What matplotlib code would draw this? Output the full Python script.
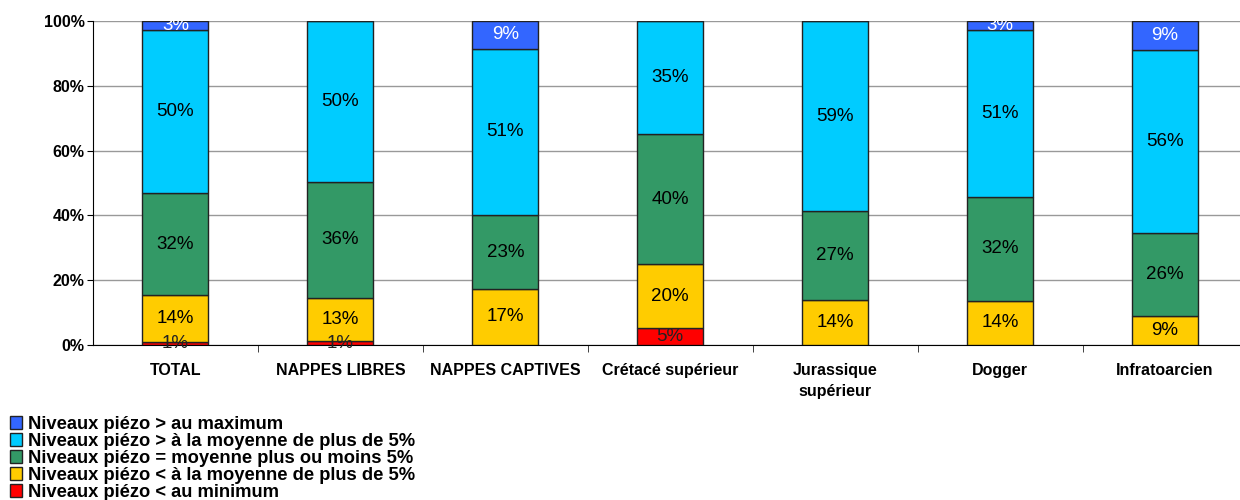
import numpy as np
import matplotlib.pyplot as plt
from matplotlib.ticker import FixedLocator, NullFormatter

plt.rcParams['font.family'] = ['Liberation Sans', 'DejaVu Sans']

categories = ["TOTAL", "NAPPES LIBRES", "NAPPES CAPTIVES", "Crétacé supérieur",
              "Jurassique\nsupérieur", "Dogger", "Infratoarcien"]

# stacked from bottom to top (% of stations)
below_min = [0.9, 1.2, 0.0, 5.2, 0.0, 0.0, 0.0]
below_avg = [14.4, 13.4, 17.3, 19.8, 13.9, 13.6, 9.0]
around_avg = [31.7, 35.8, 22.8, 40.0, 27.4, 32.2, 25.6]
above_avg = [50.2, 49.6, 51.3, 35.0, 58.7, 51.4, 56.4]
above_max = [2.8, 0.0, 8.6, 0.0, 0.0, 2.8, 9.0]

series = [below_min, below_avg, around_avg, above_avg, above_max]
labels = ["Niveaux piézo < au minimum",
          "Niveaux piézo < à la moyenne de plus de 5%",
          "Niveaux piézo = moyenne plus ou moins 5%",
          "Niveaux piézo > à la moyenne de plus de 5%",
          "Niveaux piézo > au maximum"]
colors = ["#FF0000", "#FFCC00", "#339966", "#00CCFF", "#3366FF"]
text_colors = ["#222222", "#000000", "#000000", "#000000", "#FFFFFF"]

fig = plt.figure(figsize=(12.4, 5.0), dpi=100)
ax = fig.add_axes([0.075, 0.31, 0.931, 0.648])

x = np.arange(len(categories))
bottom = np.zeros(len(categories))
handles = []
for vals, lab, col, tcol in zip(series, labels, colors, text_colors):
    vals = np.array(vals)
    b = ax.bar(x, vals, width=0.4, bottom=bottom, color=col,
               edgecolor="#222222", linewidth=1.0, label=lab, zorder=3)
    handles.append(b)
    for xi, v, b0 in zip(x, vals, bottom):
        if v > 0:
            ax.text(xi, b0 + v / 2, f"{round(v)}%", ha="center", va="center",
                    fontsize=13.5, color=tcol, zorder=4)
    bottom += vals

ax.set_xlim(-0.5, len(categories) - 0.5)
ax.set_ylim(0, 100)
ax.set_yticks(np.arange(0, 101, 20))
ax.set_yticklabels([f"{v}%" for v in range(0, 101, 20)],
                   fontsize=11.5, fontweight="bold")
ax.yaxis.grid(True, color="#999999", linewidth=1.0, zorder=0)

ax.xaxis.set_major_locator(FixedLocator(x))
ax.set_xticklabels(categories, fontsize=11.5, fontweight="bold",
                   linespacing=1.5)
ax.tick_params(axis="x", which="major", length=0, pad=13)
ax.xaxis.set_minor_locator(FixedLocator(x[:-1] + 0.5))
ax.xaxis.set_minor_formatter(NullFormatter())
ax.tick_params(axis="x", which="minor", length=5, color="#222222")
ax.tick_params(axis="y", length=4, pad=2)

for s in ["top", "right"]:
    ax.spines[s].set_visible(False)
ax.spines["left"].set_color("#000000")
ax.spines["bottom"].set_color("#000000")

leg_handles = handles[::-1]
leg_labels = labels[::-1]
fig.legend(leg_handles, leg_labels, loc="upper left",
           bbox_to_anchor=(0.008, 0.168), frameon=False,
           prop={"size": 13.2, "weight": "bold"},
           handlelength=0.65, handleheight=0.65, handletextpad=0.35,
           labelspacing=0.0, borderpad=0, borderaxespad=0)

fig.savefig("out.png", dpi=100)
